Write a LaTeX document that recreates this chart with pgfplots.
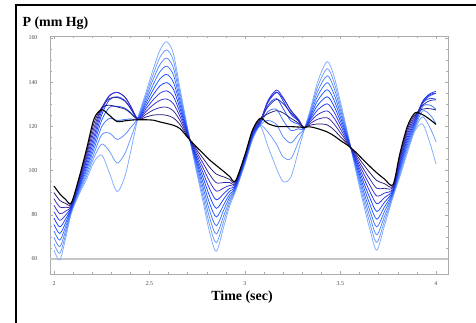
\documentclass[border=0pt]{standalone}
\usepackage{fontspec}
\setmainfont{Liberation Serif}
\usepackage{pgfplots}
\usepackage{pgfplotstable}
\pgfplotsset{compat=1.18}
\pgfplotstableread{
t c0 c1 c2 c3 c4 c5 c6 c7 c8 c9 c10
2.00 93 90.1 87.2 84.3 81.4 78.5 75.6 72.7 69.8 66.9 64
2.03 89.5 86.5 83.5 80.5 77.5 74.5 71.5 68.5 65.5 62.5 59.5
2.06 87 85.2 83.4 81.6 79.8 78 76.2 74.4 72.6 70.8 69
2.09 85.3 84.8 84.3 83.9 83.4 82.9 82.4 81.9 81.5 81.0 80.5
2.13 96.4 95.7 94.9 94.2 93.4 92.7 92.0 91.2 90.5 89.7 89
2.17 109.6 108.2 106.9 105.5 104.2 102.8 101.4 100.1 98.7 97.4 96
2.21 123.5 121.6 119.6 117.7 115.7 113.8 111.8 109.9 107.9 106.0 104
2.25 127.5 128.4 128.5 128.1 127.0 125.3 122.9 119.9 116.2 112.0 107
2.29 125 129.6 132.6 134.0 133.8 132.0 128.6 123.6 117.0 108.8 99
2.33 122.2 128.8 133.1 135.4 135.4 133.4 129.1 122.7 114.1 103.4 90.5
2.37 122.5 127.9 131.5 133.3 133.4 131.8 128.3 123.1 116.2 107.5 97
2.40 122.8 126.0 128.2 129.3 129.4 128.4 126.4 123.4 119.3 114.2 108
2.44 123 123.1 123.2 123.3 123.4 123.5 123.6 123.7 123.8 123.9 124
2.48 123 124.2 125.4 126.6 127.8 129 130.2 131.4 132.6 133.8 135
2.52 122.8 125.1 127.4 129.8 132.1 134.4 136.7 139.0 141.4 143.7 146
2.555 122 125.3 128.5 131.8 135 138.3 141.5 144.8 148 151.3 154.5
2.59 121.3 125 128.7 132.4 136.1 139.8 143.5 147.2 150.9 154.6 158.3
2.625 120.5 123.8 127 130.3 133.5 136.8 140 143.3 146.5 149.8 153
2.66 119 120.8 122.6 124.4 126.2 128 129.8 131.6 133.4 135.2 137
2.70 115 115.4 115.8 116.2 116.6 117 117.4 117.8 118.2 118.6 119
2.74 111.2 110.3 109.4 108.4 107.5 106.6 105.7 104.8 103.8 102.9 102
2.78 107.8 105.6 103.4 101.3 99.1 96.9 94.7 92.5 90.4 88.2 86
2.815 104.8 101.5 98.2 95 91.7 88.4 85.1 81.8 78.6 75.3 72
2.85 102.3 98.4 94.5 90.7 86.8 82.9 79.0 75.1 71.3 67.4 63.5
2.89 99.5 97.1 94.6 92.2 89.7 87.3 84.8 82.4 79.9 77.5 75
2.92 97.3 96.0 94.6 93.3 92.0 90.7 89.3 88.0 86.7 85.3 84
2.95 95.3 94.8 94.3 93.9 93.4 92.9 92.4 91.9 91.5 91.0 90.5
3.00 107.2 106.8 106.4 105.9 105.5 105.1 104.7 104.3 103.8 103.4 103
3.04 118.5 118.1 117.6 117.2 116.7 116.3 115.8 115.4 114.9 114.5 114
3.08 123.7 123.3 123.0 122.6 122.2 121.9 121.5 121.1 120.7 120.4 120
3.12 121.3 125.7 128.8 130.8 131.6 131.2 129.5 126.7 122.7 117.4 111
3.165 120 127.1 132.2 135.3 136.4 135.5 132.6 127.7 120.8 111.9 101
3.20 119.9 126.1 130.3 132.6 133.0 131.5 128.0 122.6 115.3 106.1 95
3.24 119.9 123.7 126.2 127.3 127.1 125.5 122.5 118.2 112.5 105.4 97
3.28 119.7 121.5 122.7 123.2 123.1 122.4 121.0 118.9 116.3 113.0 109
3.31 119.6 119.5 119.4 119.3 119.2 119.1 118.9 118.8 118.7 118.6 118.5
3.34 119.8 120.5 121.2 122.0 122.7 123.4 124.1 124.8 125.6 126.3 127
3.38 119 121.1 123.2 125.3 127.4 129.5 131.6 133.7 135.8 137.9 140
3.43 117.5 120.7 123.9 127.0 130.2 133.4 136.6 139.8 142.9 146.1 149.3
3.465 115.8 118.5 121.2 124.0 126.7 129.4 132.1 134.8 137.6 140.3 143
3.50 113.6 115.3 117.1 118.8 120.6 122.3 124.0 125.8 127.5 129.3 131
3.54 111.3 111.8 112.2 112.7 113.2 113.7 114.1 114.6 115.1 115.5 116
3.58 108.3 107.5 106.6 105.8 105.0 104.2 103.3 102.5 101.7 100.8 100
3.62 104.8 102.8 100.8 98.9 96.9 94.9 92.9 90.9 89.0 87.0 85
3.655 101.8 98.9 96.0 93.2 90.3 87.4 84.5 81.6 78.8 75.9 73
3.69 99 95.5 92 88.5 85 81.5 78 74.5 71 67.5 64
3.73 96.2 94.1 92.0 89.8 87.7 85.6 83.5 81.4 79.2 77.1 75
3.775 93.6 93.0 92.5 91.9 91.4 90.8 90.2 89.7 89.1 88.6 88
3.81 107.3 106.3 105.2 104.2 103.2 102.2 101.1 100.1 99.1 98.0 97
3.85 120 118.8 117.6 116.4 115.2 114 112.8 111.6 110.4 109.2 108
3.89 126.1 125.3 124.5 123.7 122.9 122.1 121.2 120.4 119.6 118.8 118
3.93 125.3 127.8 129.6 130.7 131.3 131.2 130.4 129.0 127.0 124.3 121
3.97 123 128.0 131.7 134.0 134.9 134.5 132.7 129.6 125.1 119.2 112
4.00 120.9 127.4 132.0 134.9 135.8 135.0 132.2 127.7 121.3 113.1 103
}\curves
\definecolor{k1}{rgb}{0.14,0.10,0.45}
\definecolor{k2}{rgb}{0.20,0.15,0.65}
\definecolor{k3}{rgb}{0.20,0.18,0.82}
\definecolor{k4}{rgb}{0.15,0.20,0.92}
\definecolor{k5}{rgb}{0.08,0.25,1.00}
\definecolor{k6}{rgb}{0.12,0.33,1.00}
\definecolor{k7}{rgb}{0.22,0.43,1.00}
\definecolor{k8}{rgb}{0.32,0.52,1.00}
\definecolor{k9}{rgb}{0.42,0.60,1.00}
\definecolor{k10}{rgb}{0.50,0.67,1.00}
\begin{document}
\begin{tikzpicture}
\path[use as bounding box] (0,0) rectangle (476bp,323bp);
\fill[white] (0,0) rectangle (476bp,323bp);
\draw[line width=1.4bp] (16bp,0) -- (16bp,318bp) -- (476bp,318bp);
\begin{axis}[at={(50bp,49bp)}, anchor=south west, width=398bp, height=238bp, scale only axis,
  xmin=1.979, xmax=4.063, ymin=53.2, ymax=160.9,
  xtick={2,2.5,3,3.5,4}, xticklabels={2,2.5,3,3.5,4},
  ytick={60,80,...,160},
  minor x tick num=4, minor y tick num=3,
  axis line style={gray!65, line width=0.7bp},
  major tick length=3bp, minor tick length=2bp,
  tick style={gray!65, line width=0.5bp},
  tick label style={font=\fontsize{6}{7}\selectfont, text=gray!60!black},
  /pgf/number format/assume math mode=true,
  yticklabel style={xshift=-9bp},
  xticklabel style={yshift=-4bp},
  every axis plot/.append style={smooth, tension=0.5},
]
\addplot[gray!45, line width=1.2bp, sharp plot] coordinates {(1.979,60) (4.063,60)};
\addplot[k10, line width=0.75bp] table[x=t,y=c10] {\curves};
\addplot[k9, line width=0.75bp] table[x=t,y=c9] {\curves};
\addplot[k8, line width=0.75bp] table[x=t,y=c8] {\curves};
\addplot[k7, line width=0.75bp] table[x=t,y=c7] {\curves};
\addplot[k6, line width=0.75bp] table[x=t,y=c6] {\curves};
\addplot[k5, line width=0.75bp] table[x=t,y=c5] {\curves};
\addplot[k4, line width=0.75bp] table[x=t,y=c4] {\curves};
\addplot[k3, line width=0.75bp] table[x=t,y=c3] {\curves};
\addplot[k2, line width=0.75bp] table[x=t,y=c2] {\curves};
\addplot[k1, line width=0.75bp] table[x=t,y=c1] {\curves};
\addplot[black, line width=1.1bp] table[x=t,y=c0] {\curves};
\end{axis}
\node[anchor=base west, font=\fontsize{14}{16}\selectfont\bfseries] at (19bp,296.5bp) {P (mm Hg)};
\node[anchor=base, font=\fontsize{14}{16}\selectfont\bfseries] at (242bp,23bp) {Time (sec)};
\end{tikzpicture}
\end{document}
